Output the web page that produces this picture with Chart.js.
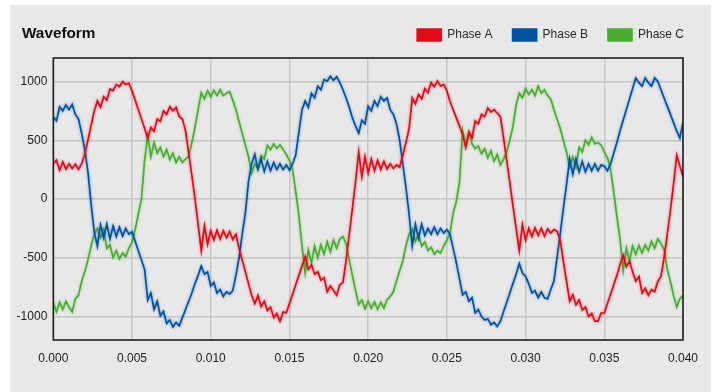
<!DOCTYPE html>
<html><head><meta charset="utf-8">
<script src="https://cdn.jsdelivr.net/npm/chart.js@4.4.1/dist/chart.umd.min.js"></script>
<style>
html,body{margin:0;padding:0;background:#fff;width:718px;height:392px;overflow:hidden}
#card{position:absolute;left:10px;top:5px;width:701px;height:400px;background:#e8e8e8}
#title{position:absolute;left:22px;top:25.4px;font:bold 15.3px "Liberation Sans",Arial,sans-serif;line-height:15.3px;color:#111;white-space:nowrap}
canvas{position:absolute;left:0;top:0}
</style></head><body>
<div id="card"></div>
<canvas id="c" width="718" height="392"></canvas>
<div id="title">Waveform</div>
<script>
// ---- data ----
const sampleInterval = 0.0002; // seconds between samples
const seriesNames = ['Phase A', 'Phase B', 'Phase C'];
const xTicks = [0, 0.005, 0.01, 0.015, 0.02, 0.025, 0.03, 0.035, 0.04];
const yTicks = [-1000, -500, 0, 500, 1000];

const phaseA = [
 300,330,245,315,255,300,260,295,250,300,
 380,500,625,750,835,780,870,840,935,920,
 975,955,1000,975,985,920,840,760,680,600,
 515,610,575,680,660,750,720,785,750,780,
 700,680,580,390,200,0,-220,-440,-230,-385,
 -270,-350,-265,-340,-270,-330,-275,-345,-300,-420,
 -520,-620,-720,-820,-890,-820,-915,-870,-950,-920,
 -1010,-975,-1040,-960,-970,-890,-810,-730,-650,-570,
 -490,-600,-560,-640,-620,-690,-670,-790,-740,-780,
 -820,-730,-710,-520,-300,-80,150,400,190,360,
 220,340,240,330,250,320,255,300,260,290,
 270,370,480,600,860,810,890,850,940,905,
 990,955,1005,960,975,920,830,760,690,620,
 550,440,570,520,665,640,720,700,775,740,
 760,730,700,520,330,140,-60,-250,-440,-220,
 -350,-250,-320,-245,-310,-250,-315,-255,-290,-260,
 -275,-350,-530,-700,-870,-815,-900,-860,-945,-920,
 -1000,-975,-1040,-1040,-970,-970,-890,-810,-730,-650,
 -560,-478,-575,-530,-620,-700,-660,-800,-760,-820,
 -770,-790,-700,-660,-500,-300,-100,130,370,280,
 190
];
const phaseB = [
 700,665,785,750,800,760,805,720,680,560,
 420,230,-40,-280,-400,-220,-330,-215,-340,-230,
 -320,-240,-315,-250,-300,-280,-360,-440,-520,-600,
 -860,-800,-940,-870,-995,-955,-1060,-1030,-1090,-1050,
 -1080,-1010,-940,-870,-800,-720,-650,-570,-640,-620,
 -740,-710,-800,-770,-830,-790,-810,-780,-650,-500,
 -300,-120,150,300,380,250,340,235,320,240,
 310,250,300,250,290,245,300,375,570,760,
 835,780,900,862,960,930,1017,1003,1045,1010,
 1040,990,930,860,780,690,620,560,670,640,
 790,750,835,790,870,835,860,760,720,640,
 500,300,100,-130,-400,-215,-335,-215,-310,-250,
 -300,-240,-300,-250,-290,-260,-300,-420,-540,-680,
 -815,-790,-870,-840,-970,-940,-1000,-1030,-1020,-1070,
 -1050,-1085,-1040,-960,-880,-800,-720,-640,-550,-630,
 -660,-720,-800,-780,-840,-790,-840,-850,-770,-700,
 -500,-300,-80,120,340,210,340,230,320,230,
 300,240,300,240,290,280,240,300,390,480,
 580,670,760,850,940,1030,990,960,1030,990,
 960,1030,1000,930,860,790,720,650,580,520,
 650
];
const phaseC = [
 -880,-960,-880,-940,-870,-920,-960,-850,-820,-700,
 -620,-520,-400,-300,-250,-330,-260,-420,-390,-500,
 -440,-510,-460,-490,-420,-370,-260,-130,0,330,
 540,360,480,390,440,360,420,335,390,310,
 360,310,340,360,480,610,760,905,850,920,
 870,925,880,930,880,900,915,840,760,660,
 560,460,360,220,300,260,370,340,455,420,
 470,430,460,420,380,330,250,60,-140,-400,
 -630,-435,-545,-400,-500,-390,-470,-365,-450,-350,
 -420,-340,-320,-380,-520,-650,-780,-900,-860,-935,
 -870,-930,-875,-940,-880,-930,-860,-830,-790,-700,
 -610,-530,-400,-300,-255,-360,-300,-400,-365,-440,
 -410,-470,-440,-460,-400,-350,-290,-120,-20,140,
 580,450,570,470,430,450,385,430,350,410,
 320,380,290,340,400,500,620,800,900,860,
 940,890,930,880,960,900,930,880,850,760,
 680,600,500,400,273,358,273,440,400,500,
 460,525,470,480,460,400,350,250,60,-150,
 -340,-610,-420,-530,-400,-470,-395,-460,-390,-440,
 -360,-420,-340,-380,-430,-600,-700,-820,-920,-850,
 -820
];

// ---- styling ----
const seriesColors = ['#e30b17', '#0052a3', '#4aad32'];
const FONT = '"Liberation Sans", Arial, sans-serif';

const times = phaseA.map((_, i) => +(i * sampleInterval).toFixed(4));
const series = [phaseA, phaseB, phaseC];

const datasets = series.map((vals, k) => ({
  label: seriesNames[k],
  data: vals.map((v, i) => ({x: times[i], y: v})),
  borderColor: seriesColors[k],
  backgroundColor: seriesColors[k],
  borderWidth: 1.7,
  pointRadius: 0,
  pointHoverRadius: 0,
  tension: 0,
  fill: false
}));

const legendShift = {
  id: 'legendShift',
  afterLayout(chart) {
    const l = chart.legend;
    if (!l) return;
    l.left += 21; l.right += 21;
    l.top -= 7; l.bottom -= 7;
  }
};
const glow = {
  id: 'glow',
  beforeDatasetDraw(chart, args) {
    const ctx = chart.ctx;
    ctx.save();
    ctx.shadowColor = args.meta.dataset.options.borderColor + '88';
    ctx.shadowBlur = 3;
  },
  afterDatasetDraw(chart) { chart.ctx.restore(); }
};
const frame = {
  id: 'frame',
  afterDatasetsDraw(chart) {
    const {ctx, chartArea: a} = chart;
    ctx.save();
    ctx.strokeStyle = '#1e1e1e';
    ctx.lineWidth = 1.6;
    ctx.strokeRect(a.left, a.top, a.right - a.left, a.bottom - a.top);
    ctx.restore();
  }
};

new Chart(document.getElementById('c'), {
  type: 'line',
  data: {datasets},
  plugins: [legendShift, glow, frame],
  options: {
    responsive: false,
    animation: false,
    layout: {padding: {left: 10, right: 35, top: 16, bottom: 22}},
    plugins: {
      title: {display: false},
      tooltip: {enabled: false},
      legend: {
        position: 'top',
        align: 'end',
        labels: {
          boxWidth: 24, boxHeight: 12, padding: 20,
          color: '#2a2a2a',
          font: {size: 12, family: FONT}
        }
      }
    },
    scales: {
      x: {
        type: 'linear', min: 0, max: 0.04,
        afterBuildTicks: s => { s.ticks = xTicks.map(v => ({value: v})); },
        afterFit: s => { s.height = 30; },
        grid: {color: '#c6c6c6', lineWidth: 1.5, drawTicks: false},
        border: {display: false},
        ticks: {padding: 11, color: '#222', autoSkip: false, maxRotation: 0,
                font: {size: 12, family: FONT}, callback: v => v.toFixed(3)}
      },
      y: {
        type: 'linear', min: -1200, max: 1200,
        afterBuildTicks: s => { s.ticks = yTicks.map(v => ({value: v})); },
        afterFit: s => { s.width = 43.3; },
        grid: {color: '#c6c6c6', lineWidth: 1.5, drawTicks: false},
        border: {display: false},
        ticks: {padding: 6, color: '#222', font: {size: 12, family: FONT},
                callback: v => String(v)}
      }
    }
  }
});
</script>
</body></html>
